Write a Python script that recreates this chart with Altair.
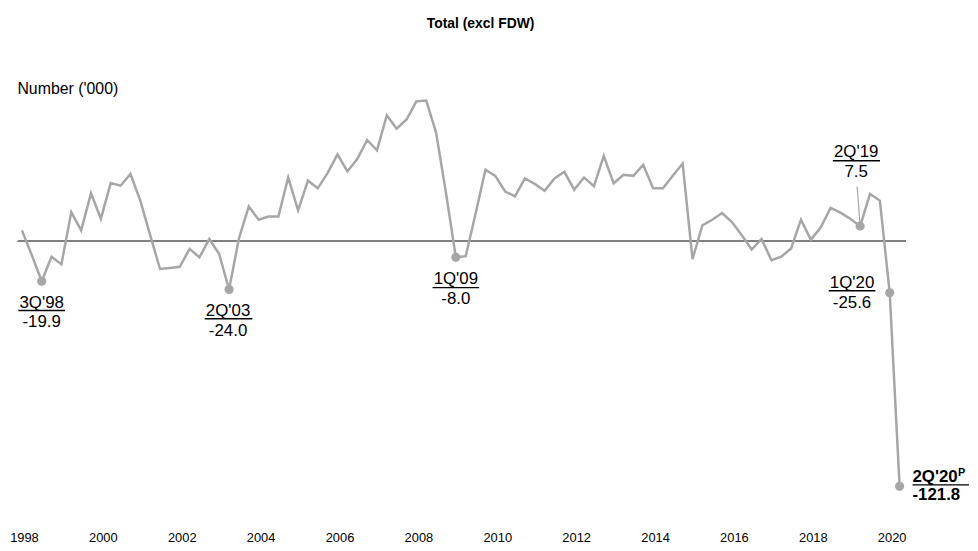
import altair as alt
import pandas as pd

# Quarterly change, Number ('000), from 1Q'98 to 2Q'20
start_year = 1998
values = [
    5.4, -7.0, -19.9, -7.7, -11.5, 14.5, 5.4, 23.8, 11.2, 28.9,
    27.6, 33.4, 20.2, 3.0, -13.8, -13.3, -12.7, -3.8, -8.0, 1.1,
    -6.4, -24.0, 1.3, 17.3, 10.7, 12.3, 12.3, 31.7, 15.3, 30.1,
    26.3, 34.0, 43.2, 34.7, 40.8, 50.3, 45.2, 62.6, 55.9, 60.5,
    69.5, 69.9, 53.9, 24.0, -8.0, -7.4, 13.7, 35.5, 32.5, 24.7,
    22.3, 31.2, 28.5, 25.1, 31.2, 34.5, 25.6, 31.7, 27.3, 42.4,
    28.7, 33.0, 32.5, 38.0, 26.3, 26.3, 32.5, 38.6, -8.9, 7.9,
    10.7, 14.0, 9.5, 3.0, -4.1, 1.1, -9.4, -7.7, -3.6, 10.7,
    0.8, 6.8, 16.6, 14.2, 11.2, 7.5, 23.5, 20.2, -25.6, -121.8,
]
year_ticks = list(range(1998, 2021, 2))

ann_index = [2, 21, 44, 85, 88, 89]
ann_labels = ["3Q'98", "2Q'03", "1Q'09", "2Q'19", "1Q'20", "2Q'20"]
ann_values = ["-19.9", "-24.0", "-8.0", "7.5", "-25.6", "-121.8"]

df = pd.DataFrame({
    "i": list(range(len(values))),
    "t": [start_year + k / 4 for k in range(len(values))],
    "v": values,
})
ann_df = pd.DataFrame({
    "i": ann_index,
    "t": [start_year + k / 4 for k in ann_index],
    "v": [values[k] for k in ann_index],
    "label": ann_labels,
    "valtext": ann_values,
})

FONT = "Liberation Sans, Arial, sans-serif"
GREY = "#A6A6A6"

xscale = alt.Scale(domain=[1997.897, 2020.401], nice=False, zero=False)
yscale = alt.Scale(domain=[-140, 100], nice=False, zero=False)

xaxis = alt.Axis(values=year_ticks, format="d", ticks=False, domain=False,
                 grid=False, labelFontSize=13, labelFont=FONT,
                 labelColor="black", labelPadding=9, title=None,
                 labelFlush=False, labelOffset=2)
yaxis = alt.Axis(labels=False, ticks=False, domain=False, grid=False,
                 title="Number ('000)", titleAngle=0,
                 titleAlign="left", titleBaseline="middle",
                 titleX=-1, titleY=49, titleFontSize=16,
                 titleFont=FONT, titleFontWeight="normal",
                 titleColor="black")


def X():
    return alt.X("t:Q", scale=xscale, axis=xaxis)


def Y():
    return alt.Y("v:Q", scale=yscale, axis=yaxis)


zero = alt.Chart(df).mark_rule(color="#808080", strokeWidth=1.2).encode(
    y=alt.Y(datum=0, scale=yscale, axis=yaxis)
)

line = alt.Chart(df).mark_line(color=GREY, strokeWidth=2.5).encode(
    x=X(), y=Y()
)

points = alt.Chart(ann_df).mark_circle(color=GREY, opacity=1, size=85).encode(
    x=X(), y=Y()
)


def annotation(idx, dx, dy1, dyu, dy2, ux0, ux1, align="center", bold=False):
    base = alt.Chart(ann_df).transform_filter(alt.datum.i == idx)
    weight = "bold" if bold else "normal"
    t1 = base.mark_text(align=align, baseline="middle", dx=dx, dy=dy1,
                        fontSize=17, font=FONT, fontWeight=weight,
                        color="black").encode(x=X(), y=Y(), text="label:N")
    ul = base.mark_rule(color="black", strokeWidth=1.4, xOffset=ux0,
                        x2Offset=ux1, yOffset=dyu, y2Offset=dyu).encode(
        x=X(), x2="t:Q", y=Y(), y2="v:Q")
    t2 = base.mark_text(align=align, baseline="middle", dx=dx, dy=dy2,
                        fontSize=17, font=FONT, fontWeight=weight,
                        color="black").encode(x=X(), y=Y(), text="valtext:N")
    return [t1, ul, t2]


layers = [zero, line, points]
layers += annotation(2, 0, 21.5, 29.5, 41, -23.5, 23.5)
layers += annotation(21, -1, 21.5, 29.5, 41.5, -24.5, 23.5)
layers += annotation(44, 0, 22, 30.5, 42.5, -23.5, 23.5)
layers += annotation(85, -4, -75, -66, -54.5, -27.5, 20)
layers += annotation(88, -38, -10, -2, 10.5, -61.5, -14.5)
layers += annotation(89, 13, -9, -1.5, 8.5, 13, 70, align="left", bold=True)

# leader line for 2Q'19
leader = alt.Chart(ann_df).transform_filter(alt.datum.i == 85).mark_rule(
    color=GREY, strokeWidth=1.2, x2Offset=-3, y2Offset=-40
).encode(x=X(), x2="t:Q", y=Y(), y2="v:Q")
layers.append(leader)

# superscript P for the provisional figure
sup = alt.Chart(ann_df).transform_filter(alt.datum.i == 89).mark_text(
    text="P", align="left", baseline="middle", dx=59, dy=-13, fontSize=11,
    font=FONT, fontWeight="bold", color="black"
).encode(x=X(), y=Y())
layers.append(sup)

chart = alt.layer(*layers).properties(
    width=895,
    height=487,
    autosize="none",
    padding={"left": 10, "top": 30, "right": 65, "bottom": 26},
    title=alt.TitleParams("Total (excl FDW)", fontSize=14, fontWeight="bold",
                          font=FONT, anchor="middle", color="black",
                          dx=19, offset=9),
).configure(background="white").configure_view(stroke=None)

chart.save("out.html", embed_options={"renderer": "svg", "actions": False})
